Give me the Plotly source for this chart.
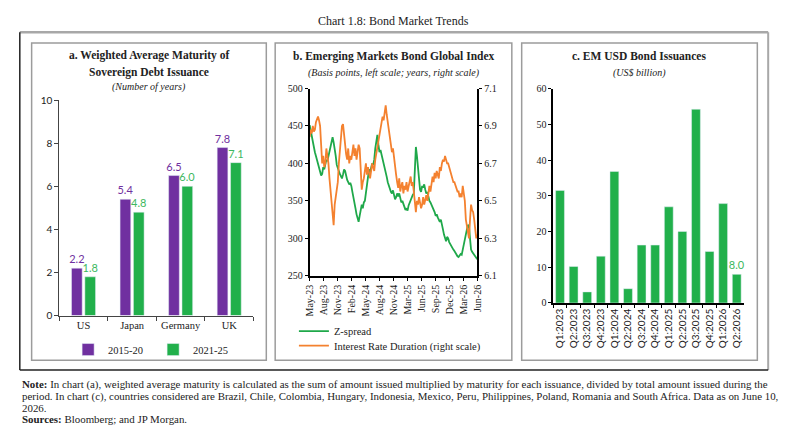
import plotly.graph_objects as go
import pandas as pd

W, H = 786, 439
def X(px): return px / W
def Y(py): return 1 - py / H

# ---------------- Data ----------------
# Panel a
countries = ["US", "Japan", "Germany", "UK"]
wam_2015_20 = [2.2, 5.4, 6.5, 7.8]
wam_2021_25 = [1.8, 4.8, 6.0, 7.1]

# Panel b (weekly observations, 10 May 2023 - 10 Jun 2026)
dates = pd.date_range("2023-05-10", "2026-06-10", freq="7D")
z_spread = [
    451, 444, 432, 425, 420, 415, 410, 404, 400, 396,
    390, 384, 386, 395, 392, 400, 405, 403, 410, 418,
    425, 430, 435, 428, 420, 410, 398, 395, 390, 386,
    382, 380, 385, 392, 390, 382, 378, 375, 372, 374,
    370, 362, 356, 350, 340, 332, 326, 322, 330, 340,
    345, 340, 348, 350, 362, 375, 385, 392, 388, 395,
    400, 398, 405, 420, 430, 438, 425, 415, 418, 412,
    410, 402, 395, 390, 382, 375, 370, 366, 362, 360,
    364, 358, 352, 355, 360, 356, 360, 354, 348, 350,
    346, 342, 338, 340, 337, 344, 348, 352, 355, 358,
    360, 395, 422, 410, 395, 380, 365, 362, 370, 368,
    372, 365, 360, 362, 355, 350, 348, 345, 340, 338,
    335, 330, 332, 328, 325, 322, 325, 320, 312, 305,
    300, 296, 302, 300, 295, 292, 290, 287, 285, 283,
    280, 278, 276, 275, 277, 279, 278, 285, 295, 302,
    310, 312, 318, 316, 300, 285, 282, 280, 278, 275,
    273, 272,
]
duration = [
    6.84, 6.88, 6.86, 6.90, 6.87, 6.88, 6.92, 6.94, 6.95, 6.93,
    6.90, 6.80, 6.70, 6.74, 6.68, 6.70, 6.78, 6.74, 6.70, 6.62,
    6.55, 6.48, 6.42, 6.37, 6.48, 6.52, 6.55, 6.60, 6.70, 6.78,
    6.85, 6.90, 6.91, 6.85, 6.80, 6.75, 6.72, 6.78, 6.70, 6.74,
    6.72, 6.76, 6.80, 6.74, 6.78, 6.72, 6.76, 6.80, 6.78, 6.65,
    6.56, 6.60, 6.62, 6.66, 6.70, 6.64, 6.68, 6.65, 6.62, 6.66,
    6.70, 6.68, 6.66, 6.72, 6.75, 6.78, 6.82, 6.85, 6.88, 6.92,
    6.95, 6.93, 6.98, 7.01, 6.96, 6.92, 6.90, 6.84, 6.80, 6.76,
    6.78, 6.72, 6.68, 6.64, 6.60, 6.57, 6.62, 6.55, 6.58, 6.60,
    6.54, 6.58, 6.56, 6.60, 6.55, 6.58, 6.62, 6.63, 6.58, 6.60,
    6.55, 6.48, 6.44, 6.50, 6.48, 6.52, 6.48, 6.46, 6.48, 6.52,
    6.48, 6.50, 6.53, 6.50, 6.55, 6.58, 6.55, 6.60, 6.63, 6.60,
    6.65, 6.62, 6.66, 6.64, 6.62, 6.68, 6.66, 6.70, 6.72, 6.71,
    6.74, 6.72, 6.70, 6.70, 6.68, 6.66, 6.65, 6.62, 6.60, 6.60,
    6.58, 6.56, 6.55, 6.55, 6.52, 6.54, 6.52, 6.58, 6.55, 6.50,
    6.40, 6.36, 6.33, 6.30, 6.40, 6.48, 6.45, 6.44, 6.40, 6.36,
    6.30, 6.32,
]
b_tick_dates = ["2023-05-10", "2023-08-12", "2023-11-14", "2024-02-16", "2024-05-20",
                "2024-08-22", "2024-11-24", "2025-02-26", "2025-05-31", "2025-09-02",
                "2025-12-05", "2026-03-09", "2026-06-10"]
b_tick_labels = ["May-23", "Aug-23", "Nov-23", "Feb-24", "May-24", "Aug-24", "Nov-24",
                 "Mar-25", "Jun-25", "Sep-25", "Dec-25", "Mar-26", "Jun-26"]

# Panel c
quarters = ["Q1:2023", "Q2:2023", "Q3:2023", "Q4:2023", "Q1:2024", "Q2:2024", "Q3:2024",
            "Q4:2024", "Q1:2025", "Q2:2025", "Q3:2025", "Q4:2025", "Q1:2026", "Q2:2026"]
issuance = [31.5, 10.2, 3.1, 13.1, 36.8, 4.0, 16.2, 16.2, 26.9, 20.0, 54.2, 14.4, 27.8, 8.0]

# ---------------- Styles ----------------
SERIF = "Liberation Serif"
SANS = "Lato"
PURPLE = "#7030A0"
GREEN = "#21B04B"
ORANGE = "#F4812F"
LGREEN = "#1FA84A"
TXT = "#222222"

fig = go.Figure()

fig.add_trace(go.Bar(
    x=countries, y=wam_2015_20, name="2015-20", marker_color=PURPLE,
    text=[f"{v:.1f}" for v in wam_2015_20], textposition="outside",
    textfont=dict(color=PURPLE, family=SANS, size=11), constraintext="none",
    cliponaxis=False, xaxis="x", yaxis="y", legend="legend"))
fig.add_trace(go.Bar(
    x=countries, y=wam_2021_25, name="2021-25", marker_color=GREEN,
    text=[f"{v:.1f}" for v in wam_2021_25], textposition="outside",
    textfont=dict(color="#3DB860", family=SANS, size=11), constraintext="none",
    cliponaxis=False, xaxis="x", yaxis="y", legend="legend"))

fig.add_trace(go.Scatter(
    x=dates, y=z_spread, name="Z-spread", mode="lines",
    line=dict(color=LGREEN, width=1.8), xaxis="x2", yaxis="y2", legend="legend2"))
fig.add_trace(go.Scatter(
    x=dates, y=duration, name="Interest Rate Duration (right scale)", mode="lines",
    line=dict(color=ORANGE, width=1.8), xaxis="x2", yaxis="y3", legend="legend3"))

fig.add_trace(go.Bar(
    x=quarters, y=issuance, marker_color=GREEN, width=0.65, showlegend=False,
    text=["" for _ in issuance[:-1]] + [f"{issuance[-1]:.1f}"], textposition="outside",
    textfont=dict(color="#3DB860", family=SANS, size=11), constraintext="none",
    cliponaxis=False, xaxis="x3", yaxis="y4"))

tickfont_serif = dict(family=SERIF, size=10, color=TXT)
tickfont_sans = dict(family=SANS, size=10, color=TXT)

fig.update_layout(
    width=W, height=H, margin=dict(l=0, r=0, t=0, b=0),
    paper_bgcolor="white", plot_bgcolor="white",
    barmode="group", bargap=0.45, bargroupgap=0.2,
    xaxis=dict(domain=[X(54), X(251)], anchor="y", type="category", tickangle=0,
               showline=True, linecolor="#444", linewidth=1,
               ticks="outside", ticklen=4, tickcolor="#444", tickson="boundaries",
               tickfont=dict(family=SERIF, size=10.5, color=TXT), showgrid=False),
    yaxis=dict(domain=[Y(318), Y(96)], anchor="x", range=[0, 10], dtick=2,
               showline=True, linecolor="#444", linewidth=1,
               ticks="outside", ticklen=4, tickcolor="#444",
               tickfont=tickfont_sans, showgrid=False, zeroline=False),
    xaxis2=dict(domain=[X(308), X(478)], anchor="y2", type="date",
                range=["2023-05-10", "2026-06-10"],
                tickvals=b_tick_dates, ticktext=b_tick_labels, tickangle=-90,
                showline=True, linecolor="black", linewidth=2,
                ticks="outside", ticklen=3, tickcolor="black",
                tickfont=tickfont_serif, showgrid=False),
    yaxis2=dict(domain=[Y(277), Y(84)], anchor="x2", range=[250, 500], dtick=50,
                showline=True, linecolor="black", linewidth=2,
                ticks="outside", ticklen=3, tickcolor="black",
                tickfont=tickfont_serif, showgrid=False, zeroline=False),
    yaxis3=dict(anchor="x2", overlaying="y2", side="right", range=[6.1, 7.1],
                tick0=6.1, dtick=0.2, tickformat=".1f",
                showline=True, linecolor="black", linewidth=2,
                ticks="outside", ticklen=3, tickcolor="black",
                tickfont=tickfont_serif, showgrid=False, zeroline=False),
    xaxis3=dict(domain=[X(555), X(748)], anchor="y4", type="category",
                tickangle=-90, showline=True, linecolor="black", linewidth=1.5,
                ticks="outside", ticklen=3, tickcolor="black", tickson="boundaries",
                tickfont=tickfont_sans, showgrid=False),
    yaxis4=dict(domain=[Y(305), Y(84)], anchor="x3", range=[0, 60], dtick=10,
                showline=True, linecolor="black", linewidth=1.5,
                ticks="outside", ticklen=3, tickcolor="black",
                tickfont=tickfont_serif, showgrid=False, zeroline=False),
    legend=dict(orientation="h", x=X(63), y=Y(353), xanchor="left", yanchor="middle",
                font=dict(family=SERIF, size=10.5, color=TXT), bgcolor="rgba(0,0,0,0)",
                entrywidth=40, itemwidth=30),
    legend2=dict(orientation="v", x=X(292), y=Y(334), xanchor="left", yanchor="middle",
                 font=dict(family=SERIF, size=10.5, color=TXT), bgcolor="rgba(0,0,0,0)"),
    legend3=dict(orientation="v", x=X(292), y=Y(349), xanchor="left", yanchor="middle",
                 font=dict(family=SERIF, size=10.5, color=TXT), bgcolor="rgba(0,0,0,0)"),
)

shapes = []
# outer frame
shapes.append(dict(type="line", xref="paper", yref="paper", x0=X(14), x1=X(773), y0=Y(26), y1=Y(26),
                   line=dict(color="#A8A8A8", width=2.5)))
shapes.append(dict(type="line", xref="paper", yref="paper", x0=X(773), x1=X(773), y0=Y(26), y1=Y(374),
                   line=dict(color="#A8A8A8", width=2)))
shapes.append(dict(type="line", xref="paper", yref="paper", x0=X(14), x1=X(14), y0=Y(26), y1=Y(374),
                   line=dict(color="#222", width=1.5)))
shapes.append(dict(type="line", xref="paper", yref="paper", x0=X(14), x1=X(773), y0=Y(374), y1=Y(374),
                   line=dict(color="#222", width=1.5)))
# panel boxes
for (l, r) in [(26, 264), (273, 513), (523, 762)]:
    shapes.append(dict(type="rect", xref="paper", yref="paper", x0=X(l), x1=X(r), y0=Y(364), y1=Y(37),
                       line=dict(color="#9C9C9C", width=1.5)))
fig.update_layout(shapes=shapes)

ann = []
def text(px, py, s, size=11, family=SERIF, xanchor="center", color=TXT):
    ann.append(dict(xref="paper", yref="paper", x=X(px), y=Y(py), text=s, showarrow=False,
                    xanchor=xanchor, yanchor="middle", font=dict(family=family, size=size, color=color)))

text(393, 14, "Chart 1.8: Bond Market Trends", size=12)
text(145, 50, "<b>a. Weighted Average Maturity of</b>", size=11.5)
text(145, 67, "<b>Sovereign Debt Issuance</b>", size=11.5)
text(145, 82, "<i>(Number of years)</i>", size=10)
text(394, 51, "<b>b. Emerging Markets Bond Global Index</b>", size=11.5)
text(394, 68, "<i>(Basis points, left scale; years, right scale)</i>", size=10)
text(642, 51, "<b>c. EM USD Bond Issuances</b>", size=11.5)
text(642, 68, "<i>(US$ billion)</i>", size=10)

NOTE = 10.9
text(14, 389, "<b>Note:</b> In chart (a), weighted average maturity is calculated as the sum of amount issued "
              "multiplied by maturity for each issuance, divided by total amount issued during the",
     size=NOTE, xanchor="left")
text(14, 401, "period. In chart (c), countries considered are Brazil, Chile, Colombia, Hungary, Indonesia, "
              "Mexico, Peru, Philippines, Poland, Romania and South Africa. Data as on June 10,",
     size=NOTE, xanchor="left")
text(14, 413, "2026.", size=NOTE, xanchor="left")
text(14, 425, "<b>Sources:</b> Bloomberg; and JP Morgan.", size=NOTE, xanchor="left")
fig.update_layout(annotations=ann)

fig.write_html("out.html")
